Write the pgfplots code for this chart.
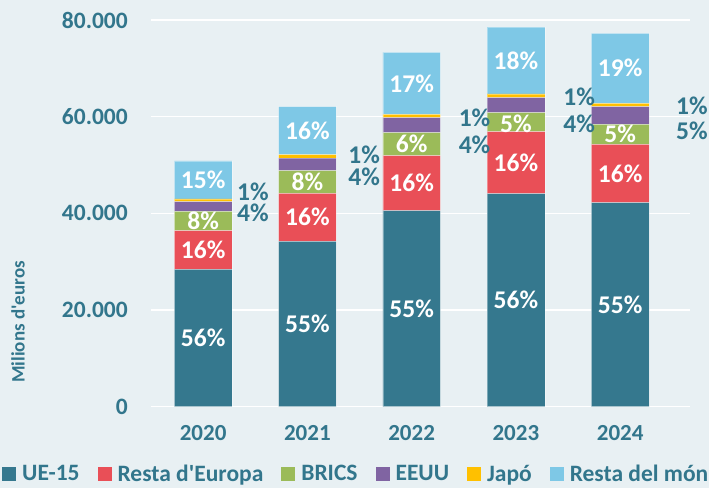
\documentclass[border=0pt]{standalone}
\usepackage{pgfplots}
\usepackage{pgfplotstable}
\pgfplotsset{compat=1.18}
\usepackage{fontspec}
\setmainfont{Carlito}
\definecolor{bg}{RGB}{232,240,243}
\definecolor{txt}{RGB}{50,118,140}
\definecolor{cue}{RGB}{53,120,142}
\definecolor{cre}{RGB}{233,79,87}
\definecolor{cbr}{RGB}{155,187,89}
\definecolor{cus}{RGB}{128,100,162}
\definecolor{cja}{RGB}{255,192,0}
\definecolor{cmo}{RGB}{126,200,230}
\pgfplotstableread{
x ue resta brics eeuu japo mon
0 28400 7990 4015 1990 560 7865
1 34200 9930 4700 2600 680 9950
2 40530 11390 4760 3100 700 12800
3 44050 12830 3930 3110 770 13810
4 42190 12090 4140 3640 700 14490
}\data
\newcommand{\lf}{\bfseries\fontsize{25.5}{26}\selectfont}
% coordinates defined inside the axis, labels drawn after it
\newcommand{\inc}[3]{\coordinate (#1) at (axis cs:#2,#3);}
\newcommand{\inl}[2]{\node[font=\lf, text=white, inner sep=0pt] at (#1) {#2\%};}
\newcommand{\outl}[2]{\node[font=\lf, text=txt, inner sep=0pt, anchor=west] at (#1) {#2\%};}
\pgfplotsset{sq/.style={legend image code/.code={\fill[##1, draw=none] (0pt,-7pt) rectangle (14pt,7pt);}}}
\begin{document}
\begin{tikzpicture}
\fill[bg] (0pt,0pt) rectangle (709pt,488pt);
\useasboundingbox (0pt,0pt) rectangle (709pt,488pt);
\begin{axis}[
  at={(151pt,81.5pt)}, anchor=south west,
  scale only axis, width=539pt, height=386.5pt,
  xmin=-0.5, xmax=4.67, ymin=0, ymax=80000,
  enlargelimits=false, clip=false,
  ybar stacked, bar width=57.7pt,
  axis line style={draw=none},
  major tick length=0pt,
  xtick={0,1,2,3,4}, xticklabels={2020,2021,2022,2023,2024},
  ytick={20000,40000,60000,80000},
  extra y ticks={0},
  extra y tick style={grid style={white, line width=2.6pt}},
  ymajorgrids, major grid style={white, line width=1.3pt},
  scaled y ticks=false,
  /pgf/number format/.cd, fixed, 1000 sep={.}, assume math mode=true, /pgfplots/.cd,
  yticklabel style={font=\bfseries\fontsize{23.5}{24}\selectfont, text=txt, inner sep=0pt, xshift=-23pt},
  xticklabel style={font=\bfseries\fontsize{23}{24}\selectfont, text=txt, inner sep=0pt, anchor=north, yshift=-18.5pt},
  ylabel={Milions d\textquotesingle euros},
  ylabel style={font=\bfseries\fontsize{19}{20}\selectfont, text=txt, at={(axis description cs:-0.2468,0.2186)}, anchor=center},
  legend columns=6,
  legend style={at={(rel axis cs:-0.2764,-0.1746)}, anchor=west, draw=none, fill=none, inner sep=0pt,
    font=\bfseries\fontsize{23.5}{24}\selectfont, text=txt,
    nodes={inner sep=0pt},
    /tikz/every odd column/.append style={column sep=6pt},
    /tikz/every even column/.append style={column sep=18pt}},
  every axis plot/.append style={draw=white, draw opacity=0.35, line width=0.5pt},
]
\addplot[fill=cue, sq] table[x=x,y=ue] {\data};
\addlegendentry{UE-15}
\addplot[fill=cre, sq] table[x=x,y=resta] {\data};
\addlegendentry{Resta d\textquotesingle Europa}
\addplot[fill=cbr, sq] table[x=x,y=brics] {\data};
\addlegendentry{BRICS}
\addplot[fill=cus, sq] table[x=x,y=eeuu] {\data};
\addlegendentry{EEUU}
\addplot[fill=cja, sq] table[x=x,y=japo] {\data};
\addlegendentry{Japó}
\addplot[fill=cmo, sq] table[x=x,y=mon] {\data};
\addlegendentry{Resta del món}
% inside label positions (segment midpoints)
\inc{a1}{0}{14200}\inc{a2}{0}{32395}\inc{a3}{0}{38397}\inc{a4}{0}{46887}
\inc{b1}{1}{17100}\inc{b2}{1}{39165}\inc{b3}{1}{46480}\inc{b4}{1}{57085}
\inc{c1}{2}{20265}\inc{c2}{2}{46225}\inc{c3}{2}{54300}\inc{c4}{2}{66880}
\inc{d1}{3}{22025}\inc{d2}{3}{50465}\inc{d3}{3}{58600}\inc{d4}{3}{71595}
\inc{e1}{4}{21095}\inc{e2}{4}{48235}\inc{e3}{4}{56350}\inc{e4}{4}{70005}
% outside label positions
\inc{a5}{0.324}{44464}\inc{a6}{0.324}{39992}
\inc{b5}{1.391}{52060}\inc{b6}{1.391}{47507}
\inc{c5}{2.45}{59657}\inc{c6}{2.45}{54130}
\inc{d5}{3.453}{64004}\inc{d6}{3.453}{58478}
\inc{e5}{4.535}{62204}\inc{e6}{4.535}{57091}
\end{axis}
\inl{a1}{56}\inl{a2}{16}\inl{a3}{8}\inl{a4}{15}
\inl{b1}{55}\inl{b2}{16}\inl{b3}{8}\inl{b4}{16}
\inl{c1}{55}\inl{c2}{16}\inl{c3}{6}\inl{c4}{17}
\inl{d1}{56}\inl{d2}{16}\inl{d3}{5}\inl{d4}{18}
\inl{e1}{55}\inl{e2}{16}\inl{e3}{5}\inl{e4}{19}
\outl{a5}{1}\outl{a6}{4}
\outl{b5}{1}\outl{b6}{4}
\outl{c5}{1}\outl{c6}{4}
\outl{d5}{1}\outl{d6}{4}
\outl{e5}{1}\outl{e6}{5}
\end{tikzpicture}
\end{document}
